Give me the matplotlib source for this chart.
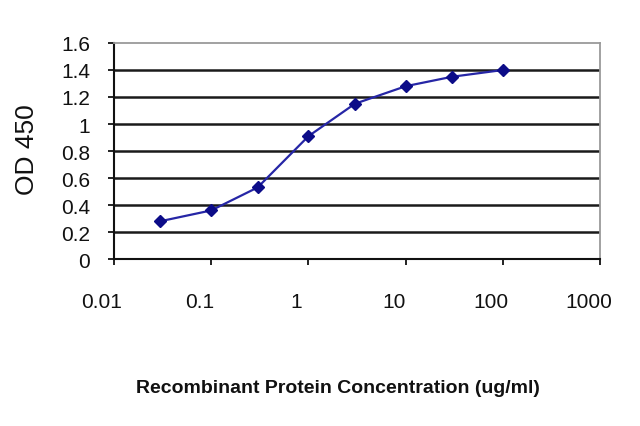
import matplotlib
matplotlib.use("Agg")
import matplotlib.pyplot as plt
from matplotlib.ticker import FixedLocator, FixedFormatter
from matplotlib.transforms import ScaledTranslation

conc = [0.03, 0.1, 0.3, 1, 3, 10, 30, 100]
od = [0.28, 0.36, 0.53, 0.91, 1.15, 1.28, 1.35, 1.40]
xticks = [0.01, 0.1, 1, 10, 100, 1000]
xticklabels = ["0.01", "0.1", "1", "10", "100", "1000"]
yticks = [0, 0.2, 0.4, 0.6, 0.8, 1.0, 1.2, 1.4, 1.6]
yticklabels = ["0", "0.2", "0.4", "0.6", "0.8", "1", "1.2", "1.4", "1.6"]

plt.rcParams['font.family'] = ['Liberation Sans', 'DejaVu Sans']

fig = plt.figure(figsize=(6.4, 4.27), dpi=100)
ax = fig.add_axes([0.178, 0.391, 0.76, 0.506])
ax.set_xscale('log')
ax.set_xlim(0.01, 1000)
ax.set_ylim(0, 1.6)

for y in yticks[1:-1]:
    ax.axhline(y, color='#1a1a1a', lw=1.8, zorder=1)

ax.plot(conc, od, color='#2626a6', lw=1.6, marker='D', markersize=6.5,
        markerfacecolor='#0c0c88', markeredgecolor='#0c0c88', zorder=3)

ax.xaxis.set_major_locator(FixedLocator(xticks))
ax.xaxis.set_major_formatter(FixedFormatter(xticklabels))
ax.xaxis.set_minor_locator(FixedLocator([]))
ax.yaxis.set_major_locator(FixedLocator(yticks))
ax.yaxis.set_major_formatter(FixedFormatter(yticklabels))

for s in ['top', 'right']:
    ax.spines[s].set_color('#9a9a9a')
    ax.spines[s].set_linewidth(1.3)
for s in ['left', 'bottom']:
    ax.spines[s].set_color('#111111')
    ax.spines[s].set_linewidth(1.5)

ax.tick_params(axis='both', direction='out', length=4, width=1.3, labelsize=15, colors='#111111')
ax.tick_params(axis='x', pad=20)
ax.tick_params(axis='y', pad=13)

for lbl in ax.get_xticklabels():
    lbl.set_transform(lbl.get_transform() + ScaledTranslation(-12/100, 0, fig.dpi_scale_trans))

ax.set_xlabel("Recombinant Protein Concentration (ug/ml)", fontsize=14, fontweight='bold', color='#111111')
ax.xaxis.set_label_coords(0.461, -0.593)
ax.xaxis.label.set_verticalalignment('center')
ax.set_ylabel("OD 450", fontsize=19, color='#111111')
ax.yaxis.set_label_coords(-0.179, 0.509)
ax.yaxis.label.set_verticalalignment('center')

fig.savefig("out.png", dpi=100)
